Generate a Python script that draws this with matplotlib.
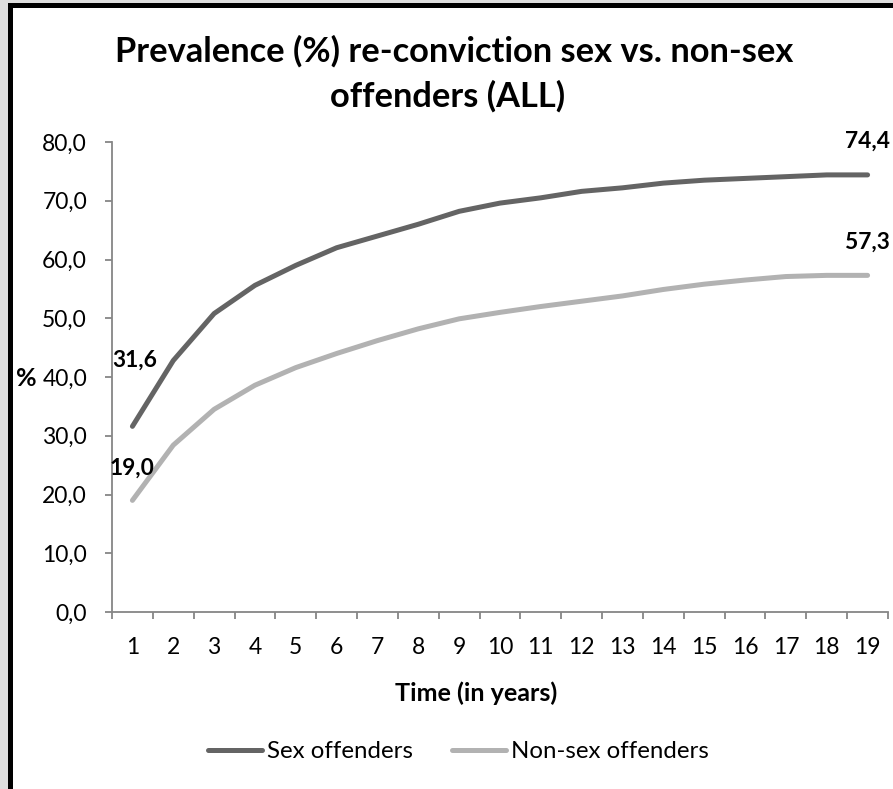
import numpy as np
import matplotlib.pyplot as plt
from matplotlib.patches import Rectangle
from matplotlib.ticker import FuncFormatter, FixedLocator

plt.rcParams['font.family'] = ['Lato', 'DejaVu Sans']

# Data
years = np.arange(1, 20)
sex_off = [31.6, 42.8, 50.8, 55.6, 59.0, 62.0, 64.0, 66.0, 68.2, 69.6,
           70.5, 71.6, 72.2, 73.0, 73.5, 73.8, 74.1, 74.4, 74.4]
nonsex_off = [19.0, 28.4, 34.5, 38.6, 41.6, 44.0, 46.2, 48.2, 49.9, 51.0,
              52.0, 52.9, 53.8, 54.9, 55.8, 56.5, 57.1, 57.3, 57.3]
title_lines = ['Prevalence (%) re-conviction sex vs. non-sex', 'offenders (ALL)']

dark = '#646464'
light = '#b2b2b2'
axcol = '#868686'

W, H = 893, 789
fig = plt.figure(figsize=(W/100, H/100), dpi=100, facecolor='#dedede')
renderer = fig.canvas.get_renderer()
PX = 72/100  # points per pixel


def fit_size(s, target_px, weight='normal'):
    # font size (pt) that gives the text the wanted pixel width
    t = fig.text(0, 0, s, fontsize=20, fontweight=weight)
    w = t.get_window_extent(renderer).width
    t.remove()
    return 20*target_px/w


def fx(px):
    return px/W


def fy(px):
    return 1 - px/H


# white chart area with thick black frame
fig.patches.append(Rectangle((fx(9.5), -0.1), 1.2, fy(5.5) + 0.1, transform=fig.transFigure,
                             facecolor='white', edgecolor='black', linewidth=5*PX, zorder=-1))

ax = fig.add_axes([fx(112), fy(612), fx(888 - 112), (612 - 142)/H])
ax.set_facecolor('none')

ax.plot(years, sex_off, color=dark, lw=5*PX, solid_capstyle='round', label='Sex offenders')
ax.plot(years, nonsex_off, color=light, lw=5*PX, solid_capstyle='round', label='Non-sex offenders')

tick_fs = fit_size('40,0', 45)
ax.set_xlim(0.5, 19.5)
ax.set_ylim(0, 80)
ax.set_yticks(np.arange(0, 81, 10))
ax.yaxis.set_major_formatter(FuncFormatter(lambda v, p: f'{v:.1f}'.replace('.', ',')))
ax.set_xticks(years)
ax.set_xticklabels([str(y) for y in years])
ax.xaxis.set_minor_locator(FixedLocator(np.arange(0.5, 20, 1)))
ax.tick_params(axis='x', which='major', length=0, pad=25*PX, labelsize=tick_fs)
ax.tick_params(axis='x', which='minor', length=7*PX, color=axcol, width=1.3)
ax.tick_params(axis='y', length=7*PX, color=axcol, width=1.3, labelsize=tick_fs, pad=18*PX)

for s in ['top', 'right']:
    ax.spines[s].set_visible(False)
for s in ['left', 'bottom']:
    ax.spines[s].set_color(axcol)
    ax.spines[s].set_linewidth(1.3)

# data labels
lab_fs = fit_size('74,4', 45, 'bold')
lbl = dict(fontsize=lab_fs, fontweight='bold', color='black', annotation_clip=False,
           textcoords='offset points', ha='center', va='center')
ax.annotate('31,6', (years[0], sex_off[0]), xytext=(2*PX, 66*PX), **lbl)
ax.annotate('19,0', (years[0], nonsex_off[0]), xytext=(0, 32*PX), **lbl)
ax.annotate('74,4', (years[-1], sex_off[-1]), xytext=(0, 34*PX), **lbl)
ax.annotate('57,3', (years[-1], nonsex_off[-1]), xytext=(0, 33*PX), **lbl)

# title, two lines
title_fs = fit_size(title_lines[0], 678, 'bold')
fig.text(fx(454), fy(62), title_lines[0], ha='center', va='baseline', fontsize=title_fs, fontweight='bold')
fig.text(fx(448), fy(107), title_lines[1], ha='center', va='baseline', fontsize=title_fs, fontweight='bold')

xl_fs = fit_size('Time (in years)', 162, 'bold')
fig.text(fx(26), fy(378), '%', ha='center', va='center', fontsize=xl_fs, fontweight='bold')
fig.text(fx(476), fy(693), 'Time (in years)', ha='center', va='center', fontsize=xl_fs, fontweight='bold')

leg_fs = fit_size('Sex offenders', 146)
em = leg_fs/PX  # font size in pixels
fig.legend(loc='center', bbox_to_anchor=(fx(458), fy(752)), ncol=2, frameon=False,
           fontsize=leg_fs, handlelength=54/em, handletextpad=5/em, columnspacing=39/em,
           borderpad=0, borderaxespad=0)

plt.savefig('out.png', dpi=100, facecolor=fig.get_facecolor())
